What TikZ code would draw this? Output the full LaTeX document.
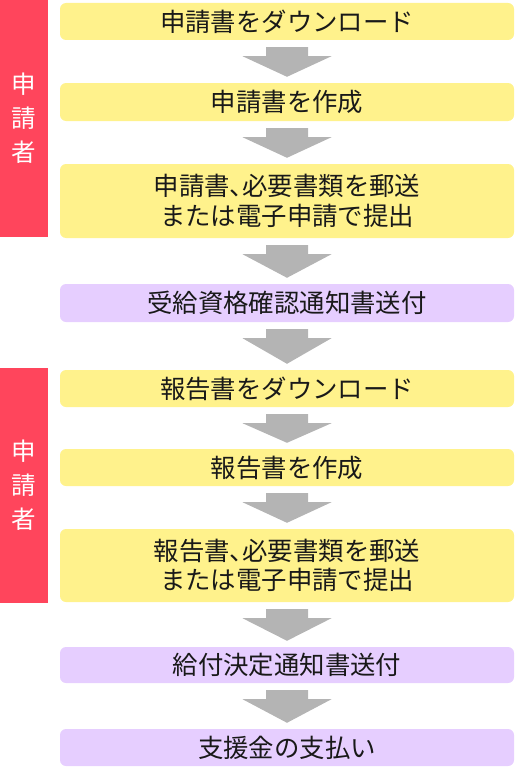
\documentclass[tikz,border=0pt]{standalone}
\usepackage{fontspec}
\newfontfamily\cjk{Noto Sans CJK JP}
\usetikzlibrary{calc}
\definecolor{barred}{RGB}{255,69,92}
\definecolor{boxyellow}{RGB}{255,242,140}
\definecolor{boxpurple}{RGB}{230,206,255}
\definecolor{arrowgray}{RGB}{180,180,180}
\definecolor{txt}{RGB}{25,25,25}
\newcommand\halfcomma{\makebox[0.5em][l]{、}}
\tikzset{
  stepbox/.style={rounded corners=6pt, inner sep=0pt, minimum width=454pt, align=center,
    text=txt, font=\cjk\fontsize{25.4}{29.5}\selectfont},
  ybox/.style={stepbox, fill=boxyellow},
  pbox/.style={stepbox, fill=boxpurple},
  sidebar/.style={fill=barred, inner sep=0pt, minimum width=48pt, text=white, align=center,
    font=\cjk\fontsize{24.5}{34}\selectfont},
  arrowshape/.style={fill=arrowgray}
}
\newcommand\flowarrow[2]{%
  \fill[arrowshape] ($(#1.south)+(-21,7)$) -- ($(#1.south)+(21,7)$) -- ($(#1.south)+(21,16)$)
    -- ($(#1.south)+(44.5,16)$) -- ($(#2.north)+(0,-6)$) -- ($(#1.south)+(-44.5,16)$)
    -- ($(#1.south)+(-21,16)$) -- cycle;}
\begin{document}
\begin{tikzpicture}[x=1pt,y=-1pt]
\useasboundingbox (0,0) rectangle (515,768);
\node[sidebar, minimum height=237pt] (s1) at (24,118.5) {申\\請\\者};
\node[sidebar, minimum height=235pt] (s2) at (24,485.5) {申\\請\\者};
\node[ybox, minimum height=37pt] (b1) at (287,21.5) {申請書をダウンロード};
\node[ybox, minimum height=38pt] (b2) at (287,102) {申請書を作成};
\node[ybox, minimum height=74pt] (b3) at (287,201) {申請書\halfcomma 必要書類を郵送\\または電子申請で提出};
\node[pbox, minimum height=38pt] (b4) at (287,303) {受給資格確認通知書送付};
\node[ybox, minimum height=37pt] (b5) at (287,388.5) {報告書をダウンロード};
\node[ybox, minimum height=37pt] (b6) at (287,467.5) {報告書を作成};
\node[ybox, minimum height=73pt] (b7) at (287,565.5) {報告書\halfcomma 必要書類を郵送\\または電子申請で提出};
\node[pbox, minimum height=36pt] (b8) at (287,665) {給付決定通知書送付};
\node[pbox, minimum height=37pt] (b9) at (287,747.5) {支援金の支払い};
\flowarrow{b1}{b2}
\flowarrow{b2}{b3}
\flowarrow{b3}{b4}
\flowarrow{b4}{b5}
\flowarrow{b5}{b6}
\flowarrow{b6}{b7}
\flowarrow{b7}{b8}
\flowarrow{b8}{b9}
\end{tikzpicture}
\end{document}
